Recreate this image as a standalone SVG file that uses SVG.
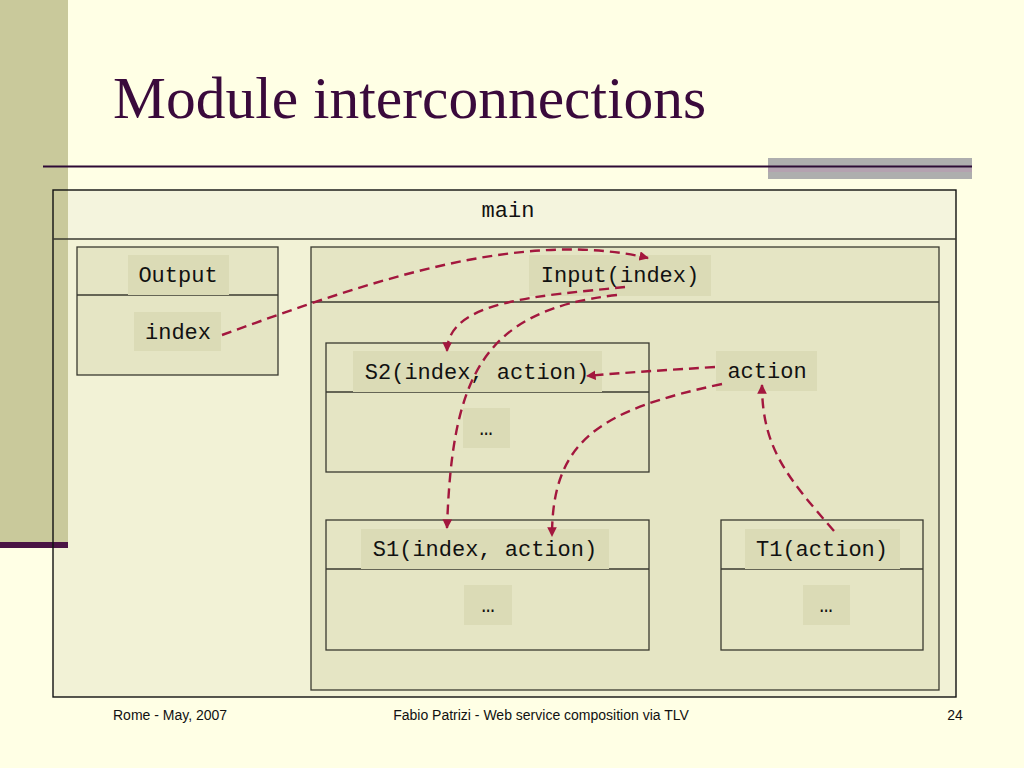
<svg xmlns="http://www.w3.org/2000/svg" width="1024" height="768" viewBox="0 0 1024 768">
<style>
.mono{font-family:"Liberation Mono","DejaVu Sans Mono",monospace;font-size:22px;fill:#111;text-anchor:middle;dominant-baseline:central}
.box{fill:#E5E5C4;stroke:#3a3a30;stroke-width:1.3}
.lbl{fill:#DBDBB6}
.div{stroke:#3a3a30;stroke-width:1.3}
.conn{fill:none;stroke:#A3173E;stroke-width:2.4;stroke-dasharray:10 6}
.foot{font-family:"Liberation Sans",Arial,sans-serif;font-size:14px;fill:#111}
</style>
<defs>
<marker id="ah" viewBox="0 0 10 10" refX="9" refY="5" markerWidth="4" markerHeight="4" markerUnits="strokeWidth" orient="auto">
<path d="M0,0 L10,5 L0,10 z" fill="#A3173E"/>
</marker>
</defs>
<rect width="1024" height="768" fill="#FFFFE5"/>
<text x="113" y="118" font-family="Liberation Serif,Times New Roman,serif" font-size="59.5" fill="#3A0A3C">Module interconnections</text>
<rect x="768" y="158" width="204" height="21" fill="#AEAEAE"/>
<line x1="43" y1="166.5" x2="972" y2="166.5" stroke="#2E0A36" stroke-width="2"/>
<rect x="768" y="168" width="204" height="4" fill="#B89AB0" opacity="0.6"/>

<g id="main">
<rect x="53" y="190" width="903" height="507" fill="#F2F2D6"/>
<rect x="54" y="191" width="901" height="48" fill="#F4F4DD"/>
<rect x="0" y="0" width="68" height="545" fill="#C9C99B"/>
<rect x="0" y="542" width="68" height="6" fill="#4A1444"/>
<line x1="43" y1="166.5" x2="68" y2="166.5" stroke="#2E0A36" stroke-width="2"/>
<rect x="53" y="190" width="903" height="507" fill="none" stroke="#111" stroke-width="1.4"/>
<line class="div" x1="53" y1="239" x2="956" y2="239"/>
<text class="mono" x="508" y="211">main</text>
</g>

<g id="output">
<rect class="box" x="77" y="247" width="201" height="128"/>
<line class="div" x1="77" y1="295" x2="278" y2="295"/>
<rect class="lbl" x="128" y="255" width="101" height="40"/>
<text class="mono" x="178" y="276">Output</text>
<rect class="lbl" x="134" y="312" width="87" height="39"/>
<text class="mono" x="178" y="333">index</text>
</g>

<g id="input">
<rect class="box" x="311" y="247" width="628" height="443"/>
<line class="div" x1="311" y1="302" x2="939" y2="302"/>
<rect class="lbl" x="529" y="255" width="182" height="41"/>
<text class="mono" x="620" y="276">Input(index)</text>
</g>

<g id="s2">
<rect class="box" x="326" y="343" width="323" height="129"/>
<line class="div" x1="326" y1="392" x2="649" y2="392"/>
<rect class="lbl" x="353" y="351" width="249" height="41"/>
<text class="mono" x="477" y="373">S2(index, action)</text>
<rect class="lbl" x="463" y="408" width="47" height="40"/>
<text class="mono" x="486" y="429">…</text>
</g>

<g id="action">
<rect class="lbl" x="716" y="351" width="101" height="40"/>
<text class="mono" x="767" y="372">action</text>
</g>

<g id="s1">
<rect class="box" x="326" y="520" width="323" height="130"/>
<line class="div" x1="326" y1="569" x2="649" y2="569"/>
<rect class="lbl" x="361" y="529" width="248" height="40"/>
<text class="mono" x="485" y="550">S1(index, action)</text>
<rect class="lbl" x="464" y="585" width="48" height="40"/>
<text class="mono" x="488" y="606">…</text>
</g>

<g id="t1">
<rect class="box" x="721" y="520" width="202" height="130"/>
<line class="div" x1="721" y1="569" x2="923" y2="569"/>
<rect class="lbl" x="745" y="529" width="155" height="40"/>
<text class="mono" x="822" y="550">T1(action)</text>
<rect class="lbl" x="803" y="585" width="47" height="40"/>
<text class="mono" x="826" y="606">…</text>
</g>

<g id="connectors">
<path class="conn" marker-end="url(#ah)" d="M222,335 C365,283 520,228 648,258"/>
<path class="conn" marker-end="url(#ah)" d="M625,287 C540,296 448,300 447,351"/>
<path class="conn" marker-end="url(#ah)" d="M617,295 C480,310 452,380 447,528"/>
<path class="conn" marker-end="url(#ah)" d="M715,367 C670,370 630,372 587,376"/>
<path class="conn" marker-end="url(#ah)" d="M722,384 C600,410 552,440 552,536"/>
<path class="conn" marker-end="url(#ah)" d="M834,531 C790,480 762,450 762,385"/>
</g>

<text class="foot" x="113" y="720">Rome - May, 2007</text>
<text class="foot" x="541" y="720" text-anchor="middle">Fabio Patrizi - Web service composition via TLV</text>
<text class="foot" x="955" y="720" text-anchor="middle">24</text>
</svg>
